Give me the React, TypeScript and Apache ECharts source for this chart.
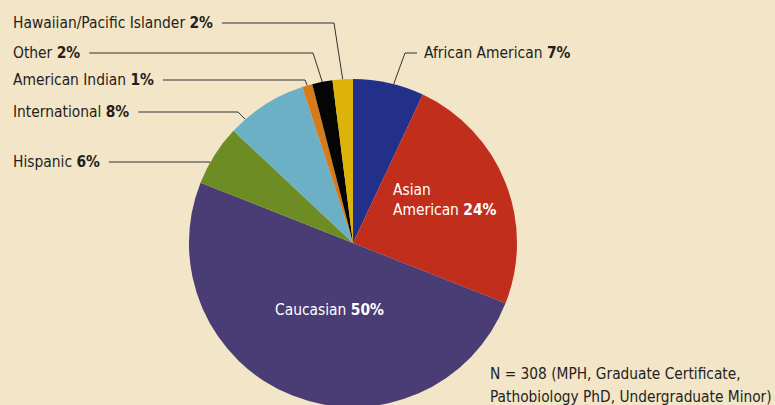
import React, { useEffect, useRef } from "react";
import * as echarts from "echarts";

const categories = [
  "African American",
  "Asian American",
  "Caucasian",
  "Hispanic",
  "International",
  "American Indian",
  "Other",
  "Hawaiian/Pacific Islander",
];
const values = [7, 24, 50, 6, 8, 1, 2, 2];
const colors = ["#233089", "#c12e1c", "#4a3c74", "#6e8c24", "#6cb0c6", "#d67b1c", "#050505", "#ddb30a"];
const footnoteLines = ["N = 308 (MPH, Graduate Certificate,", "Pathobiology PhD, Undergraduate Minor)"];

const FONT = "'Liberation Sans Narrow', 'DejaVu Sans Condensed', 'Open Sans', sans-serif";
const FS = 15.4;
const CX = 353;
const CY = 243;
const R = 164;

// label placement (layout only)
const layout: Record<string, { x: number; y: number; elbow?: number; frac?: number; inside?: boolean; right?: boolean }> = {
  "African American": { x: 424, y: 53, elbow: 405, frac: 0.57, right: true },
  "Asian American": { x: 393, y: 200, inside: true },
  Caucasian: { x: 275, y: 310, inside: true },
  Hispanic: { x: 13, y: 162, frac: 0.35 },
  International: { x: 13, y: 112, elbow: 238, frac: 0.2 },
  "American Indian": { x: 13, y: 80, elbow: 305, frac: 0.5 },
  Other: { x: 13, y: 53, elbow: 313, frac: 0.5 },
  "Hawaiian/Pacific Islander": { x: 13, y: 23, elbow: 334, frac: 0.5 },
};

export default function App() {
  const ref = useRef<HTMLDivElement>(null);
  useEffect(() => {
    document.body.style.margin = "0";
    const chart = echarts.init(ref.current!, null, { renderer: "svg" });
    const total = values.reduce((a, b) => a + b, 0);
    const starts: number[] = [];
    let acc = 0;
    values.forEach((v) => {
      starts.push(acc);
      acc += v;
    });
    const anchorOf = (i: number) => {
      const l = layout[categories[i]];
      const f = (starts[i] + values[i] * (l.frac ?? 0.5)) / total;
      const a = f * Math.PI * 2;
      return [CX + R * Math.sin(a), CY - R * Math.cos(a)];
    };
    const data = categories.map((name, i) => {
      const l = layout[name];
      return {
        name,
        value: values[i],
        itemStyle: { color: colors[i] },
        label: l.inside ? { position: "inside" } : {},
        labelLine: { show: !l.inside },
      };
    });
    chart.setOption({
      animation: false,
      backgroundColor: "#f3e5c7",
      series: [
        {
          type: "pie",
          center: [CX, CY],
          radius: R,
          startAngle: 90,
          clockwise: true,
          data,
          itemStyle: { borderWidth: 0 },
          label: {
            show: true,
            position: "outside",
            fontFamily: FONT,
            formatter: (p: any) => {
              const l = layout[p.name];
              if (p.name === "Asian American") return "{w|Asian}\n{w|American }{wb|" + p.value + "%}";
              if (l.inside) return "{w|" + p.name + " }{wb|" + p.value + "%}";
              return "{n|" + p.name + " }{b|" + p.value + "%}";
            },
            rich: {
              n: { fontFamily: FONT, fontSize: FS, color: "#231f20", lineHeight: 20 },
              b: { fontFamily: FONT, fontSize: FS, fontWeight: "bold", color: "#231f20", lineHeight: 20 },
              w: { fontFamily: FONT, fontSize: FS, color: "#ffffff", lineHeight: 20 },
              wb: { fontFamily: FONT, fontSize: FS, fontWeight: "bold", color: "#ffffff", lineHeight: 20 },
            },
          },
          labelLine: {
            show: true,
            lineStyle: { color: "#333333", width: 1 },
          },
          labelLayout: (params: any) => {
            const i = params.dataIndex;
            const l = layout[categories[i]];
            const res: any = { x: l.x, y: l.y, align: "left", verticalAlign: "middle" };
            if (!l.inside) {
              const w = params.labelRect.width;
              const a = anchorOf(i);
              if (l.right) {
                res.labelLinePoints = [a, [l.elbow, l.y], [l.x - 7, l.y]];
              } else {
                const start = l.x + w + 9;
                if (l.elbow !== undefined) {
                  res.labelLinePoints = [a, [l.elbow, l.y], [start, l.y]];
                } else {
                  res.labelLinePoints = [a, [a[0], l.y], [start, l.y]];
                }
              }
            }
            return res;
          },
        },
      ],
      graphic: [
        {
          type: "text",
          left: 490,
          top: 362,
          style: {
            text: footnoteLines.join("\n"),
            fontFamily: FONT,
            fontSize: 15.3,
            lineHeight: 23,
            fill: "#231f20",
          },
        },
      ],
    });
    return () => chart.dispose();
  }, []);
  return <div ref={ref} style={{ width: 775, height: 405 }} />;
}
